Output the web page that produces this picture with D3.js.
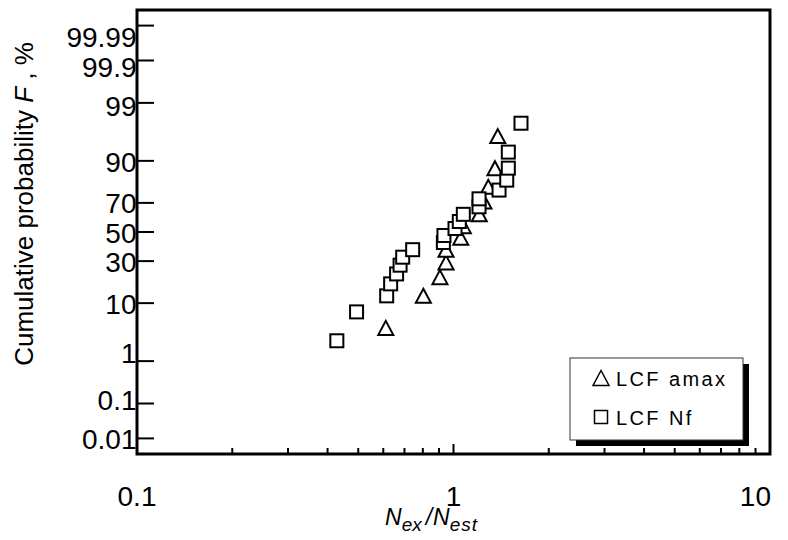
<!DOCTYPE html>
<html><head><meta charset="utf-8">
<script src="https://cdn.jsdelivr.net/npm/d3@7/dist/d3.min.js"></script>
<style>
body{margin:0;background:#fff}
svg{display:block}
text{font-family:"Liberation Sans",Arial,sans-serif;fill:#000}
</style>
</head><body>
<svg id="c" width="788" height="540"></svg>
<script>
// ---- data ----
const probTicks = [0.01, 0.1, 1, 10, 30, 50, 70, 90, 99, 99.9, 99.99];
const probTickLabels = ["0.01", "0.1", "1", "10", "30", "50", "70", "90", "99", "99.9", "99.99"];
const xTicks = [0.1, 1, 10];
const xTickLabels = ["0.1", "1", "10"];
const xMinorTicks = [0.2, 0.3, 0.4, 0.5, 0.6, 0.7, 0.8, 0.9, 2, 3, 4, 5, 6, 7, 8, 9];

const amaxRatio = [0.611, 0.803, 0.906, 0.947, 0.947, 1.054, 1.074, 1.206, 1.248, 1.288, 1.352, 1.38];
const amaxF     = [4.2, 12.5, 20.8, 29.2, 37.5, 45.8, 54.2, 62.5, 70.8, 79.2, 87.5, 95.8];

const nfRatio = [0.428, 0.494, 0.615, 0.633, 0.661, 0.678, 0.691, 0.743, 0.929, 0.933,
                 1.011, 1.043, 1.074, 1.204, 1.204, 1.393, 1.473, 1.49, 1.49, 1.634];
const nfF     = [2.5, 7.5, 12.5, 17.5, 22.5, 27.5, 32.5, 37.5, 42.5, 47.5,
                 52.5, 57.5, 62.5, 67.5, 72.5, 77.5, 82.5, 87.5, 92.5, 97.5];

const legendLabels = ["LCF amax", "LCF Nf"];

// ---- normal probability transform ----
function probit(p){
  const a=[-3.969683028665376e+01,2.209460984245205e+02,-2.759285104469687e+02,1.383577518672690e+02,-3.066479806614716e+01,2.506628277459239e+00];
  const b=[-5.447609879822406e+01,1.615858368580409e+02,-1.556989798598866e+02,6.680131188771972e+01,-1.328068155288572e+01];
  const c=[-7.784894002430293e-03,-3.223964580411365e-01,-2.400758277161838e+00,-2.549732539343734e+00,4.374664141464968e+00,2.938163982698783e+00];
  const d=[7.784695709041462e-03,3.224671290700398e-01,2.445134137142996e+00,3.754408661907416e+00];
  const pl=0.02425, ph=1-pl; let q,r;
  if(p<pl){q=Math.sqrt(-2*Math.log(p));return (((((c[0]*q+c[1])*q+c[2])*q+c[3])*q+c[4])*q+c[5])/((((d[0]*q+d[1])*q+d[2])*q+d[3])*q+1);}
  if(p<=ph){q=p-0.5;r=q*q;return (((((a[0]*r+a[1])*r+a[2])*r+a[3])*r+a[4])*r+a[5])*q/(((((b[0]*r+b[1])*r+b[2])*r+b[3])*r+b[4])*r+1);}
  q=Math.sqrt(-2*Math.log(1-p));return -(((((c[0]*q+c[1])*q+c[2])*q+c[3])*q+c[4])*q+c[5])/((((d[0]*q+d[1])*q+d[2])*q+d[3])*q+1);
}

// ---- layout ----
const L = 137, R = 770, T = 10, B = 454;
const svg = d3.select("#c");
const x = d3.scaleLog().domain([0.1, 10]).range([L, R]);
const zScale = d3.scaleLinear().domain([-4, 4]).range([B, T]);
const y = F => zScale(probit(F / 100));

// Y tick label nudges (reference places some labels off their ticks)
const yLabelNudge = {"99.99": 11, "99.9": 7, "99": 3, "90": 1.5, "1": -8, "0.1": -4};

// y ticks
svg.append("g").selectAll("line").data(probTicks).join("line")
  .attr("x1", L).attr("x2", L + 17)
  .attr("y1", d => y(d)).attr("y2", d => y(d))
  .attr("stroke", "#000").attr("stroke-width", 2);
svg.append("g").selectAll("text").data(probTicks).join("text")
  .attr("x", L - 0.5)
  .attr("y", (d, i) => y(d) + (yLabelNudge[probTickLabels[i]] || 0.5) + 10)
  .attr("text-anchor", "end").attr("font-size", 28)
  .text((d, i) => probTickLabels[i]);

// x ticks
svg.append("g").selectAll("line").data(xMinorTicks).join("line")
  .attr("x1", d => x(d)).attr("x2", d => x(d))
  .attr("y1", B).attr("y2", B - 6)
  .attr("stroke", "#000").attr("stroke-width", 2);
svg.append("line").attr("x1", x(1)).attr("x2", x(1)).attr("y1", B).attr("y2", B - 10)
  .attr("stroke", "#000").attr("stroke-width", 2);
svg.append("g").selectAll("text").data(xTicks).join("text")
  .attr("x", d => d === 10 ? x(d) + 1 : x(d))
  .attr("y", 506)
  .attr("text-anchor", d => d === 10 ? "end" : "middle").attr("font-size", 28)
  .text((d, i) => xTickLabels[i]);

// frame
svg.append("rect").attr("x", L).attr("y", T).attr("width", R - L).attr("height", B - T)
  .attr("fill", "none").attr("stroke", "#000").attr("stroke-width", 3);

// axis titles
const yt = svg.append("text").attr("transform", "translate(33,204) rotate(-90)")
  .attr("text-anchor", "middle").attr("font-size", 26);
yt.append("tspan").text("Cumulative probability ");
yt.append("tspan").attr("font-style", "italic").text("F");
yt.append("tspan").text(" , %");

const xt = svg.append("text").attr("x", 385).attr("y", 525).attr("text-anchor", "start")
  .attr("font-size", 23).attr("font-style", "italic");
xt.append("tspan").text("N");
xt.append("tspan").attr("font-size", 19).attr("dy", 6).text("ex");
xt.append("tspan").attr("dy", -6).attr("dx", 4).text("/");
xt.append("tspan").attr("dx", 1).text("N");
xt.append("tspan").attr("font-size", 19).attr("dy", 6).attr("letter-spacing", 1).text("est");

// markers
const triPath = (w, h) => `M0,${-h/2}L${w/2},${h/2}L${-w/2},${h/2}Z`;
const tri = amaxRatio.map((v, i) => ({v, F: amaxF[i]}));
const sq = nfRatio.map((v, i) => ({v, F: nfF[i]}));

svg.append("g").selectAll("path").data(tri).join("path")
  .attr("d", triPath(15, 14))
  .attr("transform", d => `translate(${x(d.v)},${y(d.F)})`)
  .attr("fill", "#fff").attr("stroke", "#000").attr("stroke-width", 2);

svg.append("g").selectAll("rect").data(sq).join("rect")
  .attr("x", d => x(d.v) - 6.5).attr("y", d => y(d.F) - 6.5)
  .attr("width", 13).attr("height", 13)
  .attr("fill", "#fff").attr("stroke", "#000").attr("stroke-width", 2);

// legend
const lg = svg.append("g");
lg.append("rect").attr("x", 576).attr("y", 364).attr("width", 173).attr("height", 82).attr("fill", "#000");
lg.append("rect").attr("x", 570).attr("y", 358).attr("width", 173).attr("height", 82)
  .attr("fill", "#fff").attr("stroke", "#333").attr("stroke-width", 1);
lg.append("path").attr("d", triPath(16, 15)).attr("transform", "translate(601,378)")
  .attr("fill", "#fff").attr("stroke", "#000").attr("stroke-width", 1.5);
lg.append("rect").attr("x", 594.5).attr("y", 410.5).attr("width", 13).attr("height", 13)
  .attr("fill", "#fff").attr("stroke", "#000").attr("stroke-width", 1.5);
lg.selectAll("text.l").data(legendLabels).join("text").attr("class", "l")
  .attr("x", 616).attr("y", (d, i) => i === 0 ? 385.5 : 424.5)
  .attr("font-size", 20).attr("letter-spacing", 2.4)
  .text(d => d);
</script>
</body></html>
